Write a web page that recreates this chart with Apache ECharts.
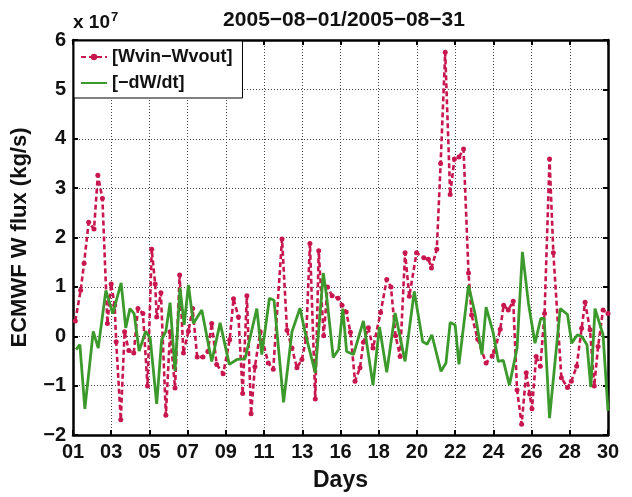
<!DOCTYPE html>
<html lang="en">
<head>
    <meta charset="UTF-8">
    <title>ECMWF W flux</title>
    <script type="text/javascript" src="https://cdn.jsdelivr.net/npm/echarts@6/dist/echarts.min.js"></script>
    <style>
        body { margin: 0; background: #fff; }
    </style>
</head>
<body>
<div id="main" style="width: 632px;height:497px;"></div>
<script type="text/javascript">
    // x positions are in tick units (0 = day 01, 14 = day 30), y in 1e7 kg/s
    var dayTicks = ['01', '03', '05', '07', '09', '11', '13', '16', '18', '20', '22', '24', '26', '28', '30'];
    var yTicks = [-2, -1, 0, 1, 2, 3, 4, 5, 6];

    var redX = [0.06, 0.20, 0.29, 0.41, 0.55, 0.65, 0.77, 0.90, 1.00, 1.09, 1.13, 1.25, 1.35, 1.46, 1.59, 1.70, 1.83, 1.95,
        2.06, 2.15, 2.19, 2.30, 2.43, 2.54, 2.67, 2.79, 2.89, 3.02, 3.13, 3.25, 3.40, 3.53, 3.63, 3.76, 3.93,
        4.10, 4.20, 4.33, 4.44, 4.55, 4.66, 4.76, 4.90, 5.11, 5.24, 5.47, 5.60, 5.73, 5.86, 5.99,
        6.10, 6.20, 6.34, 6.43, 6.56, 6.66, 6.78, 6.94, 7.04, 7.15, 7.26, 7.38, 7.51, 7.60, 7.73, 7.85,
        8.05, 8.21, 8.32, 8.44, 8.56, 8.69, 8.80, 8.99, 9.18, 9.30, 9.38, 9.52, 9.62, 9.74, 9.87, 9.98,
        10.10, 10.22, 10.35, 10.43, 10.59, 10.81, 10.97, 11.03, 11.18, 11.27, 11.39, 11.52, 11.62, 11.74, 11.86, 11.95,
        12.01, 12.12, 12.23, 12.34, 12.47, 12.57, 12.78, 12.94, 13.04, 13.18, 13.31, 13.40, 13.53, 13.64, 13.74, 13.87, 14.0];
    var redY = [0.31, 0.93, 1.48, 2.31, 2.17, 3.26, 2.79, 0.26, 1.06, 0.63, -0.11, -1.69, 0.09, -0.29, -0.34, 0.56, 0.46, -1.01,
        1.76, 1.06, 0.39, 0.88, -1.6, 0.09, -1.05, 1.24, -0.34, 0.1, 0.56, -0.42, -0.42, -0.31, 0.26, -0.57, -0.76,
        -0.07, 0.76, 0.39, -1.16, 0.82, -1.57, -0.62, 0.09, -0.54, -0.67, 1.97, 0.12, -0.24, -0.64, -0.47,
        -0.04, 1.88, -1.27, 1.73, 0.01, 1.0, 0.82, 0.77, 0.63, 0.49, 0.08, -0.91, -0.64, -0.12, 0.17, -0.24,
        0.48, 1.15, 1.0, 0.01, -0.41, 1.69, 0.81, 1.69, 1.59, 1.56, 1.38, 1.76, 3.5, 5.75, 2.87, 3.59,
        3.63, 3.79, 1.28, 0.43, -0.06, -0.54, -0.4, -0.31, 0.14, 0.63, 0.53, 0.71, -1.09, -1.78, -0.74, -1.17,
        -1.47, -0.41, -0.61, 0.46, 3.59, 1.69, -0.84, -1.04, -0.91, -0.61, 0.16, 0.69, 0.13, -1.01, -0.21, 0.53, 0.46];

    var greenX = [0.08, 0.18, 0.31, 0.53, 0.66, 0.86, 1.04, 1.26, 1.38, 1.49, 1.60, 1.73, 1.90,
        2.02, 2.19, 2.32, 2.43, 2.54, 2.67, 2.80, 2.91, 3.02, 3.15, 3.37, 3.63, 3.85,
        4.09, 4.29, 4.50, 4.63, 4.81, 4.94, 5.14, 5.26, 5.51, 5.73, 5.94,
        6.07, 6.34, 6.55, 6.64, 6.81, 6.95, 7.06, 7.16, 7.34, 7.60, 7.85,
        8.02, 8.21, 8.43, 8.69, 8.93, 9.15, 9.27, 9.39, 9.63, 9.76, 9.87,
        10.0, 10.10, 10.35, 10.52, 10.70, 10.81, 10.99, 11.13, 11.26, 11.42, 11.62, 11.76, 11.92,
        12.09, 12.24, 12.33, 12.47, 12.75, 12.94, 13.05, 13.20, 13.32, 13.45, 13.55, 13.66, 13.87, 14.0];
    var greenY = [-0.27, -0.17, -1.47, 0.1, -0.24, 0.93, 0.46, 1.08, 0.17, 0.56, 0.46, -0.3, 0.1,
        -0.04, -1.37, -0.07, 0.1, 0.68, -0.7, 0.98, 0.23, 1.04, 0.26, 0.53, -0.51, 0.27,
        -0.57, -0.47, -0.46, -0.04, 0.56, -0.37, 0.77, 0.73, -1.34, 0.09, 0.57,
        0.09, -0.74, 1.28, 0.79, -0.43, -0.27, 0.56, -0.31, -0.37, 0.31, -0.99,
        0.19, -0.73, 0.47, -0.51, 0.91, -0.11, -0.16, 0.03, -0.71, -0.54, 0.28,
        0.23, -0.57, 1.03, 0.46, -0.37, 0.59, 0.09, -0.51, -0.49, -0.99, -0.24, 1.71, 0.66,
        -0.14, 0.36, 0.36, -1.66, 0.56, 0.44, -0.14, 0.03, -0.01, -0.17, -1.03, 0.56, 0.03, -1.51];

    function pairs(xs, ys) {
        var out = [];
        for (var i = 0; i < xs.length; i++) {
            out.push([xs[i], ys[i]]);
        }
        return out;
    }

    var fontName = 'Liberation Sans';
    var ink = '#111';
    var gridLine = { show: true, lineStyle: { color: '#444', type: [1, 2], width: 1 } };
    var frameLine = { show: true, onZero: false, lineStyle: { color: '#000', width: 2.5 } };
    var innerTick = { show: true, inside: true, length: 5, lineStyle: { color: '#000', width: 2 } };

    var myChart = echarts.init(document.getElementById('main'));
    var option = {
        backgroundColor: '#fff',
        animation: false,
        title: [{
            text: '2005\u221208\u221201/2005\u221208\u221231',
            left: 339, top: 5, textAlign: 'center',
            textStyle: { fontFamily: fontName, fontSize: 21, fontWeight: 'bold', color: ink }
        }, {
            text: 'x 10{sup|7}',
            left: 68, top: 6,
            textStyle: {
                fontFamily: fontName, fontSize: 19, fontWeight: 'bold', color: ink,
                rich: { sup: { fontFamily: fontName, fontSize: 13, fontWeight: 'bold', color: ink, verticalAlign: 'top', padding: [0, 0, 10, 1] } }
            }
        }],
        legend: {
            left: 74, top: 41,
            orient: 'vertical',
            backgroundColor: '#fff',
            borderColor: '#000',
            borderWidth: 1,
            borderRadius: 0,
            padding: [7, 10, 6, 6],
            itemGap: 8,
            itemWidth: 26,
            itemHeight: 8,
            textStyle: { fontFamily: fontName, fontSize: 18, fontWeight: 'bold', color: ink },
            data: [
                { name: '[Wvin\u2212Wvout]' },
                { name: '[\u2212dW/dt]', itemStyle: { opacity: 0 } }
            ]
        },
        grid: { left: 73, right: 24, top: 40, bottom: 59, containLabel: false },
        xAxis: [{
            type: 'value', min: 0, max: 14, interval: 1,
            name: 'Days', nameLocation: 'middle', nameGap: 34,
            nameTextStyle: { fontFamily: fontName, fontSize: 23, fontWeight: 'bold', color: ink },
            axisLine: frameLine,
            axisTick: innerTick,
            axisLabel: {
                fontFamily: fontName, fontSize: 20, fontWeight: 'bold', color: ink, margin: 7,
                formatter: function (v) { return dayTicks[Math.round(v)]; }
            },
            splitLine: gridLine
        }, {
            type: 'value', min: 0, max: 14, interval: 1, position: 'top',
            axisLine: frameLine,
            axisTick: innerTick,
            axisLabel: { show: false }, splitLine: { show: false }
        }],
        yAxis: [{
            type: 'value', min: yTicks[0], max: yTicks[yTicks.length - 1], interval: 1,
            name: 'ECMWF W flux (kg/s)', nameLocation: 'middle', nameGap: 42, nameRotate: 90,
            nameTextStyle: { fontFamily: fontName, fontSize: 22, fontWeight: 'bold', color: ink },
            axisLine: frameLine,
            axisTick: innerTick,
            axisLabel: {
                fontFamily: fontName, fontSize: 20, fontWeight: 'bold', color: ink, margin: 7,
                formatter: function (v) { return v < 0 ? '\u2212' + Math.abs(v) : String(v); }
            },
            splitLine: gridLine
        }, {
            type: 'value', min: yTicks[0], max: yTicks[yTicks.length - 1], interval: 1, position: 'right',
            axisLine: frameLine,
            axisTick: innerTick,
            axisLabel: { show: false }, splitLine: { show: false }
        }],
        series: [{
            name: '[Wvin\u2212Wvout]',
            type: 'line',
            data: pairs(redX, redY),
            symbol: 'circle',
            symbolSize: 5,
            showAllSymbol: true,
            itemStyle: { color: '#c8174e' },
            lineStyle: { color: '#c8174e', width: 2.6, type: [5, 3] },
            z: 2
        }, {
            name: '[\u2212dW/dt]',
            type: 'line',
            data: pairs(greenX, greenY),
            symbol: 'none',
            itemStyle: { color: '#3c9a2c' },
            lineStyle: { color: '#3c9a2c', width: 2.8 },
            z: 3
        }]
    };
    myChart.setOption(option);
</script>
</body>
</html>
